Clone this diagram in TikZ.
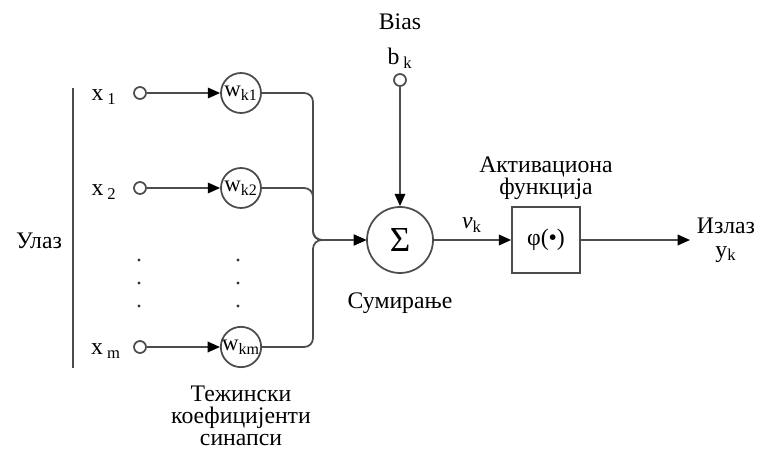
\documentclass[tikz,border=0pt]{standalone}
\usepackage{fontspec}
\setmainfont{Liberation Serif}
\usetikzlibrary{arrows.meta, positioning}

\begin{document}
\begin{tikzpicture}[
  x=0.02cm, y=-0.02cm,
  font=\fontsize{13.5}{13.5}\selectfont,
  line/.style={draw=black!70, line width=1pt},
  arr/.style={line, -{Triangle[length=7pt, width=6pt, color=black]}},
  port/.style={draw=black!70, line width=1pt, circle, inner sep=0pt, minimum size=0.24cm},
  wgt/.style={draw=black!70, line width=1pt, circle, inner sep=0pt, minimum size=0.8cm,
              font=\fontsize{13}{13}\selectfont},
  sumc/.style={draw=black!70, line width=1pt, circle, inner sep=0pt, minimum size=1.32cm,
               font=\fontsize{20}{20}\selectfont},
  box/.style={draw=black!70, line width=1pt, inner sep=0pt, minimum width=1.36cm, minimum height=1.32cm},
  lbl/.style={align=center, inner sep=1pt},
  tight/.style={lbl, font=\fontsize{13.5}{12.6}\selectfont}
]
  \useasboundingbox (0,0) rectangle (758,453);

  % inputs
  \draw[line] (73,88) -- (73,368);
  \node[lbl] (ulaz) at (39,241) {Улаз};
  \node[port] (in1) at (140,93) {};
  \node[port] (in2) at (140,188) {};
  \node[port] (inm) at (140,347) {};
  \node[lbl] (x1) at (104,97) {x\,\textsubscript{1}};
  \node[lbl] (x2) at (104,192) {x\,\textsubscript{2}};
  \node[lbl] (xm) at (106,351) {x\,\textsubscript{m}};

  % weights
  \node[wgt] (w1) at (241,93) {w\textsubscript{k1}};
  \node[wgt] (w2) at (241,188) {w\textsubscript{k2}};
  \node[wgt] (wm) at (241,347) {w\textsubscript{km}};
  \node[tight, below=0.32cm of wm] (tez) {Тежински\\коефицијенти\\синапси};

  \draw[arr] (in1) -- (w1);
  \draw[arr] (in2) -- (w2);
  \draw[arr] (inm) -- (wm);

  \foreach \y in {260,283,306} {
    \fill[black!80] (139,\y) circle[radius=0.9pt];
    \fill[black!80] (238,\y) circle[radius=0.9pt];
  }

  % summing junction
  \node[sumc] (sum) at (400,240) {Σ};
  \node[lbl, below=0.33cm of sum] (sumlbl) {Сумирање};
  \coordinate (jn) at (313,240);
  \draw[arr, rounded corners=5pt] (w1) -| (jn) -- (sum);
  \draw[arr, rounded corners=5pt] (w2) -| (jn) -- (sum);
  \draw[arr, rounded corners=5pt] (wm) -| (jn) -- (sum);

  % bias
  \node[port] (bias) at (400,80) {};
  \node[lbl] (bk) at (400,58) {b\,\textsubscript{k}};
  \node[lbl] (biaslbl) at (400,22) {Bias};
  \draw[arr] (bias) -- (sum);

  % activation
  \node[box] (act) at (546,240) {φ(•)};
  \node[tight, above=0.08cm of act] (actlbl) {Активациона\\функција};
  \draw[arr] (sum) -- (act);
  \node[lbl] (vk) at (472,225) {\textit{v}\textsubscript{k}};

  % output
  \coordinate (out) at (690,240);
  \draw[arr] (act) -- (out);
  \node[lbl] (izlaz) at (726,240) {Излаз\\y\textsubscript{k}};
\end{tikzpicture}
\end{document}
